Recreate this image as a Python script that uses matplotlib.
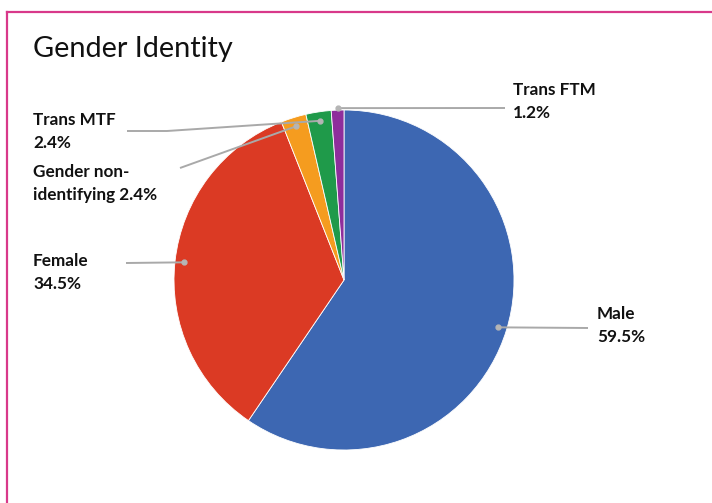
import numpy as np
import matplotlib.pyplot as plt

# data
labels = ['Male', 'Female', 'Gender non-identifying', 'Trans MTF', 'Trans FTM']
values = [59.5, 34.5, 2.4, 2.4, 1.2]
colors = ['#3D67B2', '#DB3A24', '#F59C1F', '#1F9A4A', '#8E2E9C']
text_lines = [['Male', '59.5%'],
              ['Female', '34.5%'],
              ['Gender non-', 'identifying 2.4%'],
              ['Trans MTF', '2.4%'],
              ['Trans FTM', '1.2%']]

W, H = 712, 503
cx, cy, R = 344, 280, 170

plt.rcParams['font.family'] = ['Lato', 'DejaVu Sans']
fig = plt.figure(figsize=(W / 100, H / 100), dpi=100)
ax = fig.add_axes([0, 0, 1, 1])

# y axis is inverted, so counterclock in data = clockwise on screen
ax.pie(values, colors=colors, startangle=-90, counterclock=True,
       center=(cx, cy), radius=R, frame=True,
       wedgeprops=dict(edgecolor='white', linewidth=0.6))
ax.set_xlim(0, W)
ax.set_ylim(H, 0)
ax.set_aspect('equal')
ax.axis('off')

# dot positions in the middle of each wedge
cum = np.cumsum([0] + values[:-1])
mid = -90 + (cum + np.array(values) / 2) * 3.6
rad = [161, 161, 161, 161, 172]
dots = [(cx + r * np.cos(np.radians(a)), cy + r * np.sin(np.radians(a))) for a, r in zip(mid, rad)]

# leader line elbows (screen px) and text anchors
leaders = [[(588, 328)],
           [(126, 263)],
           [(180, 168)],
           [(167, 131), (127, 131)],
           [(505, 108)]]
text_pos = [(597, 319), (33, 266), (33, 177), (33, 125), (513, 95)]

gray = '#A9A9A9'
for d, pts in zip(dots, leaders):
    xs = [d[0]] + [p[0] for p in pts]
    ys = [d[1]] + [p[1] for p in pts]
    ax.plot(xs, ys, color=gray, lw=1.4, solid_capstyle='butt', zorder=3)
    ax.plot(d[0], d[1], 'o', color='#B5B5B5', ms=3.5, zorder=4)

for (tx, ty), lines in zip(text_pos, text_lines):
    for i, s in enumerate(lines):
        ax.text(tx, ty + i * 23, s, fontsize=12.3, fontweight='bold',
                color='#111111', ha='left', va='baseline')

ax.text(33, 57, 'Gender Identity', fontsize=20.8, color='#111111',
        ha='left', va='baseline')

# pink frame
pink = '#D8398A'
ax.plot([7, W], [12, 12], color=pink, lw=1.6, clip_on=False)
ax.plot([7, 7], [12, H], color=pink, lw=1.6, clip_on=False)

fig.savefig('out.png', dpi=100, facecolor='white')
